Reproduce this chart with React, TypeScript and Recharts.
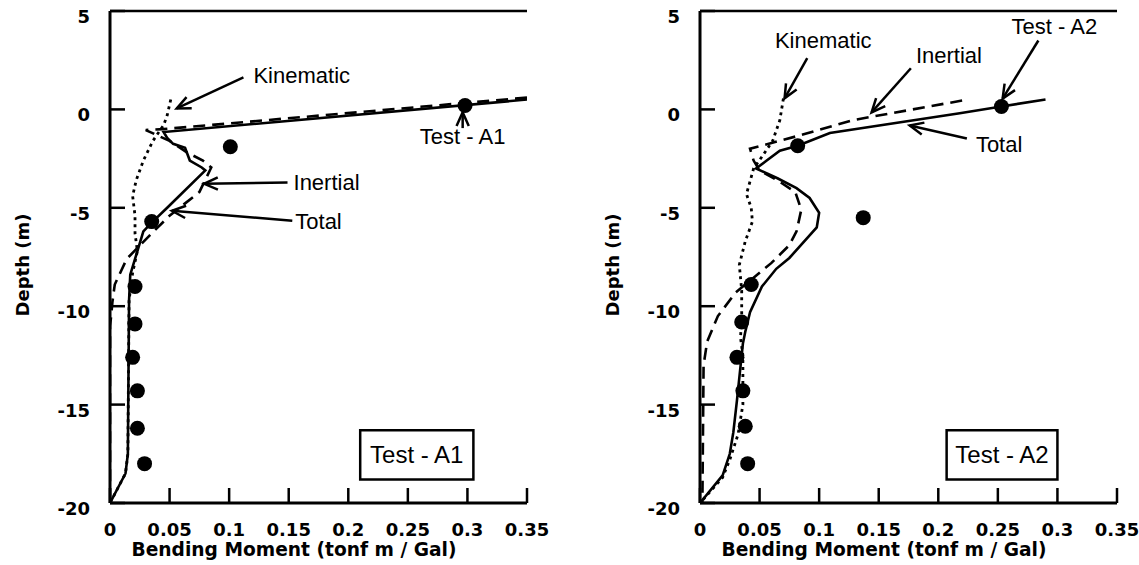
import {
  ScatterChart,
  Scatter,
  XAxis,
  YAxis,
  Label,
  ReferenceLine,
  ReferenceArea,
} from "recharts";

// [moment (tonf m / Gal), depth (m)]
const a1Total = [
  [0.35, 0.5], [0.045, -1.15], [0.048, -1.45], [0.053, -1.75], [0.063, -1.95],
  [0.067, -2.6], [0.077, -2.95], [0.08, -3.1], [0.048, -5.0], [0.035, -5.75],
  [0.028, -6.2], [0.017, -8.4], [0.016, -9.7], [0.015, -17.5], [0.013, -18.5], [0, -20],
];
const a1Inertial = [
  [0.35, 0.6], [0.045, -1.0], [0.03, -1.05], [0.05, -1.6], [0.065, -2.2],
  [0.078, -2.6], [0.085, -2.95], [0.075, -4.2], [0.05, -5.4], [0.035, -6.3],
  [0.014, -7.6], [0.004, -8.9], [0.002, -9.8], [0.001, -10.5], [0, -11], [0, -20],
];
const a1Kinematic = [
  [0.051, 0.5], [0.048, -0.3], [0.045, -0.8], [0.036, -1.6], [0.028, -2.6],
  [0.022, -3.6], [0.019, -4.4], [0.021, -5.4], [0.021, -6.3], [0.023, -7.2],
  [0.019, -8.3], [0.016, -9.7], [0.015, -17.5], [0.013, -18.5], [0, -20],
];
const a1Test = [
  [0.298, 0.2], [0.101, -1.9], [0.035, -5.7], [0.021, -9.0], [0.021, -10.9],
  [0.019, -12.6], [0.023, -14.3], [0.023, -16.2], [0.029, -18.0],
];

const a2Total = [
  [0.29, 0.5], [0.253, 0.15], [0.218, -0.2], [0.109, -1.2], [0.082, -1.85],
  [0.067, -2.1], [0.056, -2.6], [0.047, -3.0], [0.065, -3.5], [0.081, -4.0],
  [0.092, -4.5], [0.1, -5.25], [0.098, -6.0], [0.075, -7.55], [0.064, -8.1],
  [0.052, -9.0], [0.042, -10.3], [0.038, -11.3], [0.036, -11.9], [0.031, -14.8],
  [0.028, -16.4], [0.025, -17.5], [0.019, -18.6], [0, -20],
];
const a2Inertial = [
  [0.22, 0.45], [0.128, -0.55], [0.085, -1.3], [0.042, -2.0], [0.045, -2.6],
  [0.05, -3.1], [0.065, -3.6], [0.08, -4.2], [0.085, -5.1], [0.081, -6.2],
  [0.075, -6.9], [0.06, -7.8], [0.03, -9.3], [0.015, -10.5], [0.006, -11.8],
  [0.003, -13], [0.002, -20],
];
const a2Kinematic = [
  [0.07, 0.55], [0.067, -0.55], [0.061, -1.6], [0.052, -2.4], [0.045, -3.0],
  [0.039, -4.3], [0.043, -5.0], [0.044, -5.7], [0.038, -6.7], [0.033, -7.9],
  [0.035, -9.2], [0.035, -10.6], [0.034, -11.6], [0.036, -12.5], [0.036, -15],
  [0.032, -16.5], [0.025, -17.8], [0.019, -18.7], [0, -20],
];
const a2Test = [
  [0.253, 0.15], [0.082, -1.85], [0.137, -5.5], [0.043, -8.9], [0.035, -10.8],
  [0.031, -12.6], [0.036, -14.3], [0.038, -16.1], [0.04, -18.0],
];

const momentTicks = [0, 0.05, 0.1, 0.15, 0.2, 0.25, 0.3, 0.35];
const depthTicks = [5, 0, -5, -10, -15, -20];

// annotation: text, arrow start [m, d], arrow tip [m, d], text offset, anchor
const a1Notes = [
  { text: "Kinematic", from: [0.112, 1.63], to: [0.056, 0.05], dx: 10, dy: 6, anchor: "start" },
  { text: "Inertial", from: [0.149, -3.72], to: [0.079, -3.78], dx: 6, dy: 7, anchor: "start" },
  { text: "Total", from: [0.153, -5.66], to: [0.052, -5.15], dx: 3, dy: 8, anchor: "start" },
  { text: "Test - A1", from: [0.296, -0.95], to: [0.296, -0.15], dx: 0, dy: 16, anchor: "middle" },
];
const a2Notes = [
  { text: "Kinematic", from: [0.09, 2.6], to: [0.071, 0.56], dx: 16, dy: -10, anchor: "middle" },
  { text: "Inertial", from: [0.177, 2.09], to: [0.144, -0.15], dx: 5, dy: -5, anchor: "start" },
  { text: "Total", from: [0.224, -1.48], to: [0.176, -0.82], dx: 9, dy: 13, anchor: "start" },
  { text: "Test - A2", from: [0.284, 3.5], to: [0.254, 0.55], dx: 16, dy: -7, anchor: "middle" },
];

const toPoints = (rows: number[][]) => rows.map(([m, d]) => ({ m, d }));

const BOLD = "'DejaVu Sans', sans-serif";
const PLAIN = "'Liberation Sans', Arial, sans-serif";

const DepthTick = (p: any) => (
  <g>
    <line x1={p.x + 20} x2={p.x + 35} y1={p.y} y2={p.y} stroke="#000" strokeWidth={2.5} />
    <text x={p.x} y={p.y + 12} textAnchor="end" fontFamily={BOLD} fontWeight="bold" fontSize={18} fill="#000">
      {p.payload.value}
    </text>
  </g>
);

const MomentTick = (p: any) => (
  <g>
    <line x1={p.x} x2={p.x} y1={p.y - 4} y2={p.y - 19} stroke="#000" strokeWidth={2.5} />
    <text x={p.x} y={p.y + 29} textAnchor="middle" fontFamily={BOLD} fontWeight="bold" fontSize={18} fill="#000">
      {p.payload.value}
    </text>
  </g>
);

const xTitle = (props: any) => {
  const vb = props.viewBox;
  return (
    <text x={vb.x + 184} y={vb.y + 53} textAnchor="middle" fontFamily={BOLD} fontWeight="bold" fontSize={19}
      textLength={325} lengthAdjust="spacingAndGlyphs" fill="#000">
      Bending Moment (tonf m / Gal)
    </text>
  );
};

const yTitle = (props: any) => {
  const vb = props.viewBox;
  const cx = vb.x + 22;
  const cy = vb.y + vb.height / 2 + 8;
  return (
    <text x={cx} y={cy} transform={`rotate(-90 ${cx} ${cy})`} textAnchor="middle" dominantBaseline="central"
      fontFamily={BOLD} fontWeight="bold" fontSize={18} fill="#000">
      Depth (m)
    </text>
  );
};

const arrowShape = (note: any) => (p: any) => {
  const { x1, y1, x2, y2 } = p;
  const ang = Math.atan2(y2 - y1, x2 - x1);
  const len = 15;
  const spread = 0.42;
  const b1x = x2 - len * Math.cos(ang - spread);
  const b1y = y2 - len * Math.sin(ang - spread);
  const b2x = x2 - len * Math.cos(ang + spread);
  const b2y = y2 - len * Math.sin(ang + spread);
  return (
    <g>
      <line x1={x1} y1={y1} x2={x2} y2={y2} stroke="#000" strokeWidth={2.5} />
      <polyline points={`${b1x},${b1y} ${x2},${y2} ${b2x},${b2y}`} fill="none" stroke="#000" strokeWidth={2.5} />
      <text x={x1 + note.dx} y={y1 + note.dy} textAnchor={note.anchor} fontFamily={PLAIN} fontSize={22} fill="#000">
        {note.text}
      </text>
    </g>
  );
};

const hidden = () => <g />;
const dot = (p: any) => <circle cx={p.cx} cy={p.cy} r={7.5} fill="#000" />;

function Panel({ left, total, inertial, kinematic, test, notes, box, boxLabel }: any) {
  return (
    <div style={{ position: "absolute", left, top: 0 }}>
      <ScatterChart width={560} height={565} margin={{ top: 11, right: 33, bottom: 22, left: 0 }}>
        <XAxis
          type="number"
          dataKey="m"
          domain={[0, 0.35]}
          ticks={momentTicks}
          interval={0}
          height={40}
          tickSize={0}
          tickMargin={4}
          tickLine={false}
          tick={<MomentTick />}
          axisLine={{ stroke: "#000", strokeWidth: 3 }}
          allowDataOverflow
        >
          <Label content={xTitle} />
        </XAxis>
        <YAxis
          type="number"
          dataKey="d"
          domain={[-20, 5]}
          ticks={depthTicks}
          interval={0}
          width={110}
          tickSize={0}
          tickMargin={20}
          tickLine={false}
          tick={<DepthTick />}
          axisLine={{ stroke: "#000", strokeWidth: 3 }}
          allowDataOverflow
        >
          <Label content={yTitle} />
        </YAxis>
        <ReferenceLine y={5} stroke="#000" strokeWidth={2.5} />
        <Scatter data={toPoints(kinematic)} shape={hidden} line={{ stroke: "#000", strokeWidth: 2.8, strokeDasharray: "3 4" }} isAnimationActive={false} />
        <Scatter data={toPoints(inertial)} shape={hidden} line={{ stroke: "#000", strokeWidth: 2.6, strokeDasharray: "12 7" }} isAnimationActive={false} />
        <Scatter data={toPoints(total)} shape={hidden} line={{ stroke: "#000", strokeWidth: 2.6 }} isAnimationActive={false} />
        <Scatter data={toPoints(test)} shape={dot} isAnimationActive={false} />
        {notes.map((n: any) => (
          <ReferenceLine
            key={n.text}
            segment={[{ x: n.from[0], y: n.from[1] }, { x: n.to[0], y: n.to[1] }]}
            shape={arrowShape(n)}
            ifOverflow="visible"
          />
        ))}
        <ReferenceArea
          x1={box[0]}
          x2={box[1]}
          y1={box[2]}
          y2={box[3]}
          fill="#fff"
          fillOpacity={1}
          stroke="#000"
          strokeWidth={2.5}
          label={{ value: boxLabel, position: "center", fontSize: 24, fill: "#000", fontFamily: PLAIN }}
        />
      </ScatterChart>
    </div>
  );
}

export default function App() {
  return (
    <div style={{ position: "absolute", left: 0, top: 0, width: 1139, height: 565, background: "#fff" }}>
      <Panel left={0} total={a1Total} inertial={a1Inertial} kinematic={a1Kinematic} test={a1Test}
        notes={a1Notes} box={[0.21, 0.305, -18.8, -16.3]} boxLabel="Test - A1" />
      <Panel left={590} total={a2Total} inertial={a2Inertial} kinematic={a2Kinematic} test={a2Test}
        notes={a2Notes} box={[0.207, 0.3, -18.8, -16.3]} boxLabel="Test - A2" />
    </div>
  );
}
